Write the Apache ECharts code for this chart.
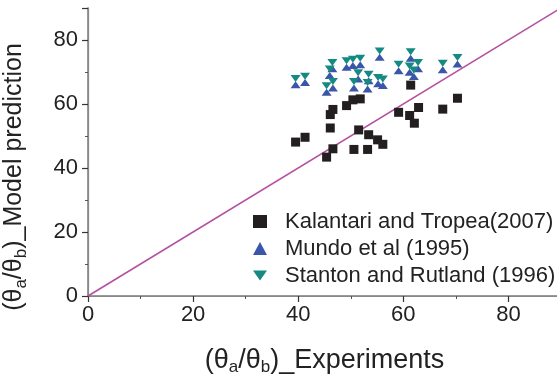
<!DOCTYPE html>
<html>
<head>
<meta charset="utf-8">
<script src="https://cdn.jsdelivr.net/npm/echarts@6/dist/echarts.min.js"></script>
<style>
  html, body { margin: 0; padding: 0; background: #fff; }
  #chart { width: 557px; height: 380px; }
</style>
</head>
<body>
<div id="chart"></div>
<script>
// x = measured ratio, y = model prediction
const kalantariX = [39.5, 41.3, 45.4, 46.6, 46.1, 46.1, 46.6, 49.2, 50.4, 51.8, 50.6, 51.5,
                    53.2, 53.4, 55.1, 56.1, 59.1, 61.2, 62.1, 62.9, 61.4, 67.5, 70.3]
const kalantariY = [48.1, 49.6, 43.4, 46.0, 52.5, 56.7, 58.3, 59.5, 61.3, 61.6, 45.8, 51.9,
                    45.8, 50.4, 48.8, 47.4, 57.4, 56.4, 54.0, 58.9, 65.9, 58.4, 61.8]

const triX = [39.5, 41.3, 45.4, 46.6, 46.5, 46.0, 49.2, 50.4, 51.8, 51.4, 50.6, 53.4,
              53.2, 55.2, 56.1, 55.5, 59.1, 61.4, 61.2, 62.8, 62.0, 67.5, 70.3]
const mundoY = [66.0, 66.7, 63.7, 65.0, 71.0, 68.9, 71.5, 72.0, 72.3, 67.8, 65.0, 67.3,
                64.7, 66.3, 65.8, 74.6, 70.4, 74.3, 69.9, 71.0, 68.6, 70.7, 72.5]
const stantonY = [68.0, 68.7, 65.7, 67.0, 73.0, 70.9, 73.5, 74.0, 74.3, 69.8, 67.0, 69.3,
                  66.7, 68.3, 67.8, 76.6, 72.4, 76.3, 71.9, 73.0, 70.6, 72.7, 74.5]

const perfectLine = [[0, 0], [90, 90]]

const pairs = (xs, ys) => xs.map((x, i) => [x, ys[i]])

const axisColor = '#7a7a7a'
const font = 'Liberation Sans, Arial, sans-serif'

const chart = echarts.init(document.getElementById('chart'), null, { renderer: 'canvas' })

const baseAxis = {
    type: 'value',
    min: 0,
    max: 90,
    interval: 20,
    axisLine: { show: true, onZero: false, lineStyle: { color: axisColor, width: 1.5 } },
    axisTick: { show: true, inside: false, length: 6, lineStyle: { color: '#333', width: 1.2 } },
    minorTick: { show: true, splitNumber: 2, length: 3, lineStyle: { color: '#555', width: 1 } },
    splitLine: { show: false },
    axisLabel: { color: '#222', fontSize: 22, fontFamily: font, showMaxLabel: false },
    nameLocation: 'middle'
}

const subStyle = { fontSize: 17, fontFamily: font, color: '#222', padding: [14, 0, 0, 0] }

chart.setOption({
    animation: false,
    grid: { left: 88, right: -4, top: 8, bottom: 84, outerBoundsMode: 'none' },
    xAxis: [
        Object.assign({}, baseAxis, {
            position: 'bottom',
            axisLabel: Object.assign({}, baseAxis.axisLabel, { margin: 8 }),
            name: '(θ{sub|a}/θ{sub|b})_Experiments',
            nameGap: 49,
            nameTextStyle: { fontSize: 27, fontFamily: font, color: '#222', rich: { sub: subStyle } }
        }),
        {
            type: 'value', position: 'top', min: 0, max: 90,
            axisLine: { show: true, lineStyle: { color: '#888', width: 1.2 } },
            axisTick: { show: false }, axisLabel: { show: false }, splitLine: { show: false }
        }
    ],
    yAxis: [
        Object.assign({}, baseAxis, {
            position: 'left',
            axisLabel: Object.assign({}, baseAxis.axisLabel, { margin: 10 }),
            name: '(θ{sub|a}/θ{sub|b})_Model prediction',
            nameGap: 58,
            nameTextStyle: {
                fontSize: 25, fontFamily: font, color: '#222',
                padding: [0, 50, 0, 0],
                rich: { sub: Object.assign({}, subStyle, { fontSize: 17 }) }
            }
        }),
        {
            type: 'value', position: 'right', min: 0, max: 90,
            axisLine: { show: true, lineStyle: { color: '#888', width: 1.2 } },
            axisTick: { show: false }, axisLabel: { show: false }, splitLine: { show: false }
        }
    ],
    legend: {
        orient: 'vertical',
        left: 248,
        top: 205,
        itemWidth: 14,
        itemHeight: 13,
        itemGap: 4,
        data: ['Kalantari and Tropea(2007)', 'Mundo et al (1995)', 'Stanton and Rutland (1996)'],
        textStyle: { fontSize: 22, fontFamily: font, color: '#222', lineHeight: 23, padding: [0, 0, 0, 13] }
    },
    series: [
        {
            type: 'line',
            data: perfectLine,
            symbol: 'none',
            silent: true,
            z: 1,
            lineStyle: { color: '#b5519f', width: 1.6 }
        },
        {
            name: 'Kalantari and Tropea(2007)',
            type: 'scatter',
            data: pairs(kalantariX, kalantariY),
            symbol: 'rect',
            symbolSize: 9,
            z: 3,
            itemStyle: { color: '#231f20', opacity: 1 }
        },
        {
            name: 'Mundo et al (1995)',
            type: 'scatter',
            data: pairs(triX, mundoY),
            symbol: 'triangle',
            symbolSize: [10, 7],
            z: 3,
            itemStyle: { color: '#3a56a8', opacity: 1 }
        },
        {
            name: 'Stanton and Rutland (1996)',
            type: 'scatter',
            data: pairs(triX, stantonY),
            symbol: 'path://M0,0 L10,0 L5,7 Z',
            symbolSize: [10, 7],
            z: 3,
            itemStyle: { color: '#158a82', opacity: 1 }
        }
    ]
})
</script>
</body>
</html>
